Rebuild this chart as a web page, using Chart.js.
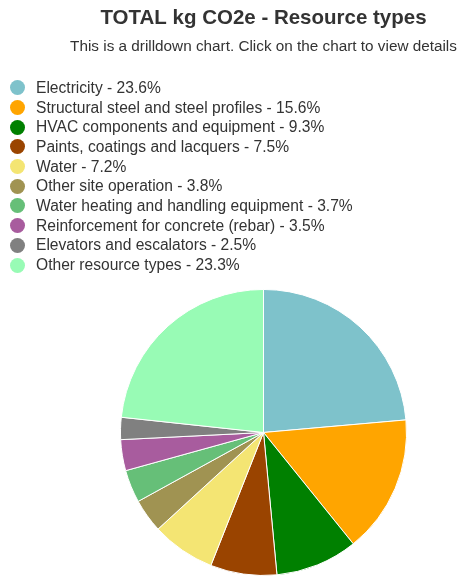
<!DOCTYPE html>
<html>
<head>
<meta charset="utf-8">
<script src="https://cdn.jsdelivr.net/npm/chart.js@4"></script>
<style>
    body { margin: 0; background: #fff; font-family: "Liberation Sans", Arial, sans-serif; }
    #wrap { position: relative; width: 465px; height: 576px; overflow: hidden; }
    #legend { position: absolute; left: 10px; top: 78px; margin: 0; padding: 0; list-style: none; }
    #legend li { display: flex; align-items: center; height: 19.7px; font-size: 15.6px; color: #333; white-space: nowrap; }
    #legend li span.dot { display: inline-block; width: 15px; height: 15px; border-radius: 50%; margin-right: 11px; }
</style>
</head>
<body>
<div id="wrap">
    <canvas id="chart" width="465" height="576"></canvas>
    <ul id="legend"></ul>
</div>
<script>
const labels = [
    "Electricity",
    "Structural steel and steel profiles",
    "HVAC components and equipment",
    "Paints, coatings and lacquers",
    "Water",
    "Other site operation",
    "Water heating and handling equipment",
    "Reinforcement for concrete (rebar)",
    "Elevators and escalators",
    "Other resource types"
];
const shares = [23.6, 15.6, 9.3, 7.5, 7.2, 3.8, 3.7, 3.5, 2.5, 23.3];
const colors = [
    "#7ec2cb", "#ffa500", "#008000", "#9a4400", "#f4e573",
    "#a09352", "#66bf78", "#a85c9e", "#808080", "#98fbb5"
];

document.addEventListener("DOMContentLoaded", () => {
    const ctx = document.getElementById("chart").getContext("2d");

    const chart = new Chart(ctx, {
        type: "pie",
        data: {
            labels: labels,
            datasets: [{
                data: shares,
                backgroundColor: colors,
                borderColor: "#fff",
                borderWidth: 1,
                hoverOffset: 0
            }]
        },
        options: {
            responsive: false,
            animation: false,
            layout: { padding: { left: 62, bottom: 0 } },
            plugins: {
                legend: { display: false },
                tooltip: { enabled: false },
                title: {
                    display: true,
                    text: "TOTAL kg CO2e - Resource types",
                    color: "#333",
                    font: { family: "Liberation Sans", size: 20.5, weight: "bold" },
                    padding: { top: 6, bottom: 7 }
                },
                subtitle: {
                    display: true,
                    text: "This is a drilldown chart. Click on the chart to view details",
                    color: "#333",
                    font: { family: "Liberation Sans", size: 15.3 },
                    padding: { top: 0, bottom: 233 }
                }
            }
        }
    });

    // legend as html so every item sits on its own line
    const list = document.getElementById("legend");
    labels.forEach((name, i) => {
        const li = document.createElement("li");
        li.innerHTML = `<span class="dot" style="background:${colors[i]}"></span>${name} - ${shares[i]}%`;
        list.appendChild(li);
    });
});
</script>
</body>
</html>
